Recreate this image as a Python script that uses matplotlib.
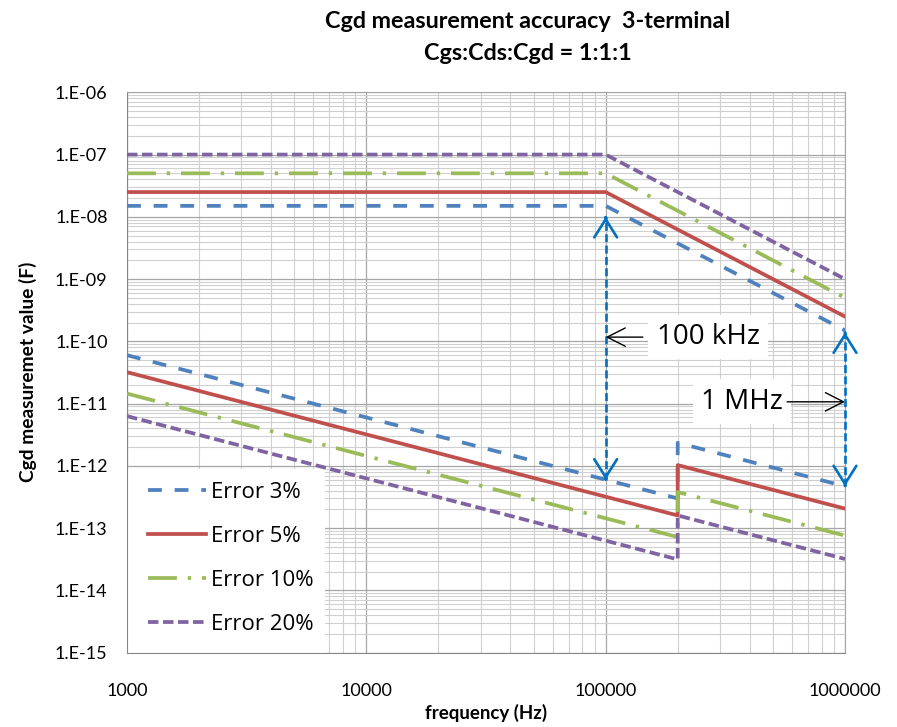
import numpy as np
import matplotlib.pyplot as plt
from matplotlib.patches import Rectangle
from matplotlib.ticker import LogLocator, FuncFormatter, NullFormatter

plt.rcParams['font.family'] = ['Lato', 'DejaVu Sans']

labels = ['Error 3%', 'Error 5%', 'Error 10%', 'Error 20%']
colors = ['#4F81BD', '#C0504D', '#9BBB59', '#8064A2']
styles = [(0, (3.7, 3.4)), '-', (0, (7.7, 2.9, 0.9, 2.9)), (0, (2.8, 1.2))]

# upper branch (flat, then 1/f^2 above 100 kHz)
freq_high = [1000, 100000, 1000000]
high_3 = [1.5e-8, 1.5e-8, 1.5e-10]
high_5 = [2.5e-8, 2.5e-8, 2.5e-10]
high_10 = [5e-8, 5e-8, 5e-10]
high_20 = [1e-7, 1e-7, 1e-9]

# lower branch (1/f with a step at 200 kHz)
freq_low = [1000, 200000, 200000, 1000000]
low_3 = [6.0e-11, 3.0e-13, 2.35e-12, 4.7e-13]
low_5 = [3.2e-11, 1.6e-13, 1.03e-12, 2.06e-13]
low_10 = [1.45e-11, 7.2e-14, 3.8e-13, 7.6e-14]
low_20 = [6.3e-12, 3.15e-14, 1.6e-13, 3.2e-14]

highs = [high_3, high_5, high_10, high_20]
lows = [low_3, low_5, low_10, low_20]

fig = plt.figure(figsize=(8.97, 7.27), dpi=100)
ax = fig.add_axes([127 / 897, 1 - 652.7 / 727, 718 / 897, 560.4 / 727])
ax.set_xscale('log')
ax.set_yscale('log')
ax.set_xlim(1e3, 1e6)
ax.set_ylim(1e-15, 1e-6)

for hi, lo, c, ls, lab in zip(highs, lows, colors, styles, labels):
    ax.plot(freq_high, hi, color=c, ls=ls, lw=2.7, label=lab, zorder=3)
    ax.plot(freq_low, lo, color=c, ls=ls, lw=2.7, zorder=3)

# grid / ticks
for axis in (ax.xaxis, ax.yaxis):
    axis.set_major_locator(LogLocator(base=10, numticks=30))
    axis.set_minor_locator(LogLocator(base=10, subs=np.arange(2, 10), numticks=200))
    axis.set_minor_formatter(NullFormatter())
ax.yaxis.set_major_formatter(FuncFormatter(lambda v, p: '1.E{:+03d}'.format(int(round(np.log10(v))))))
ax.xaxis.set_major_formatter(FuncFormatter(lambda v, p: '{:d}'.format(int(round(v)))))
ax.grid(True, which='major', color='#A6A6A6', lw=0.9, zorder=0)
ax.grid(True, which='minor', color='#D0D0D0', lw=0.8, zorder=0)
ax.set_axisbelow(True)
ax.tick_params(which='both', length=0, labelsize=13)
ax.tick_params(axis='y', pad=14)
ax.tick_params(axis='x', pad=22)
for s in ax.spines.values():
    s.set_color('#A6A6A6')
for s in ('left', 'bottom'):
    ax.spines[s].set_color('#868686')

# legend on a white block
ax.add_patch(Rectangle((0, 0), 0.276, 0.328, transform=ax.transAxes,
                       fc='white', ec='none', zorder=2.5))
leg = ax.legend(loc='upper left', bbox_to_anchor=(0.029, 0.305), frameon=False,
                prop=dict(family='Open Sans', size=16), handlelength=2.6,
                handletextpad=0.25, labelspacing=1.04, borderpad=0, borderaxespad=0)
leg.set_zorder(4)

# vertical blue arrows
arrow_x = [1e5, 1e6]
arrow_top = [1e-8, 1.4e-10]
arrow_bot = [6e-13, 4.7e-13]
for x, yt, yb in zip(arrow_x, arrow_top, arrow_bot):
    ax.plot([x, x], [yb, yt], color='#0070C0', lw=1.9, ls=(0, (3, 1.3)), zorder=5, clip_on=False)
    for tip, base in ((yt, yt * 0.97), (yb, yb / 0.97)):
        ax.annotate('', xy=(x, tip), xytext=(x, base), annotation_clip=False,
                    arrowprops=dict(arrowstyle='->,head_length=0.65,head_width=0.41',
                                    color='#0070C0', lw=1.9, mutation_scale=20,
                                    shrinkA=0, shrinkB=0), zorder=5)

# frequency callouts
ax.text(2.68e5, 1.17e-10, '100 kHz', fontsize=20, family='Open Sans', ha='center', va='center',
        bbox=dict(boxstyle='square,pad=0.3', fc='white', ec='none'), zorder=4)
ax.annotate('', xy=(1e5, 1.17e-10), xytext=(1.43e5, 1.17e-10),
            arrowprops=dict(arrowstyle='->,head_length=0.65,head_width=0.33', color='black',
                            lw=1, mutation_scale=20, shrinkA=0, shrinkB=0), zorder=6)
ax.text(3.72e5, 1.07e-11, '1 MHz', fontsize=20, family='Open Sans', ha='center', va='center',
        bbox=dict(boxstyle='square,pad=0.3', fc='white', ec='none'), zorder=4)
ax.annotate('', xy=(1e6, 1.07e-11), xytext=(5.73e5, 1.07e-11), annotation_clip=False,
            arrowprops=dict(arrowstyle='->,head_length=0.65,head_width=0.33', color='black',
                            lw=1, mutation_scale=20, shrinkA=0, shrinkB=0), zorder=6)

# titles and axis labels
fig.text(528 / 897, 1 - 22 / 727, 'Cgd measurement accuracy  3-terminal', ha='center', va='center',
         fontsize=16.8, fontweight='bold')
fig.text(528 / 897, 1 - 53 / 727, 'Cgs:Cds:Cgd = 1:1:1', ha='center', va='center',
         fontsize=16.8, fontweight='bold')
fig.text(486 / 897, 1 - 713 / 727, 'frequency (Hz)', ha='center', va='center',
         fontsize=13.5, fontweight='bold')
fig.text(28 / 897, 1 - 372 / 727, 'Cgd measuremet value (F)', ha='center', va='center',
         rotation=90, fontsize=13.8, fontweight='bold')

fig.savefig('out.png', dpi=100)
